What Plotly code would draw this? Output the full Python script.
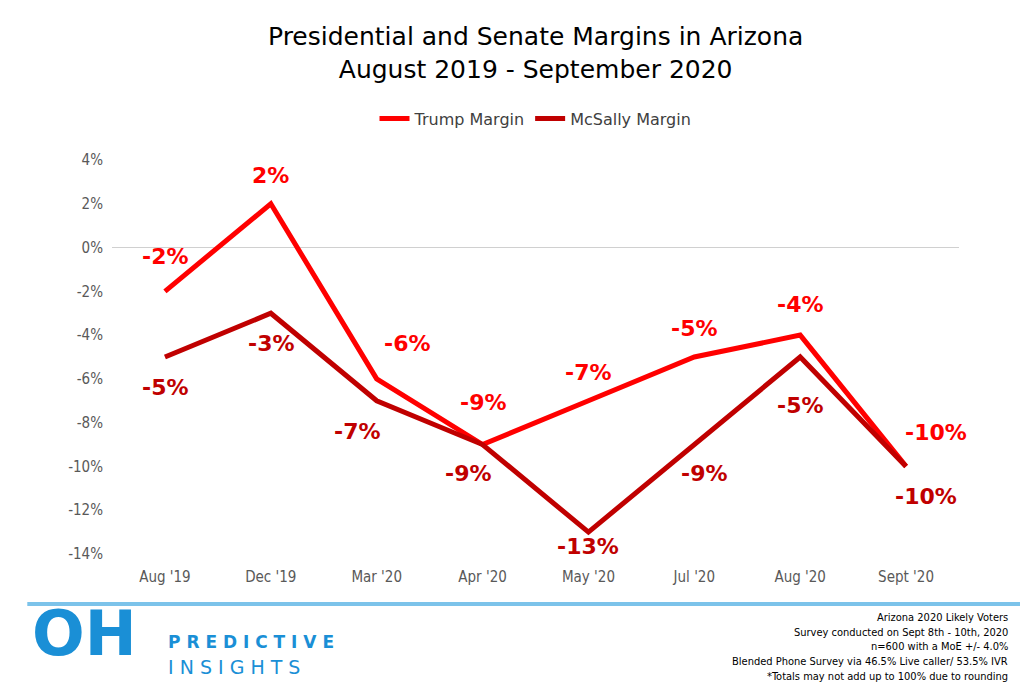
import plotly.graph_objects as go

months = ["Aug '19", "Dec '19", "Mar '20", "Apr '20", "May '20", "Jul '20", "Aug '20", "Sept '20"]
trump = [-2, 2, -6, -9, -7, -5, -4, -10]
mcsally = [-5, -3, -7, -9, -13, -9, -5, -10]
ytick_vals = [4, 2, 0, -2, -4, -6, -8, -10, -12, -14]
# label offsets in px (x, y)
trump_off = [(0, 35), (0, 28), (30, 35), (0, 42), (0, 28), (0, 29), (0, 31), (30, 34)]
mcsally_off = [(0, -30), (0, -30), (-20, -31), (-15, -29), (0, -14), (10, -29), (0, -48), (20, -30)]
footer = ["Arizona 2020 Likely Voters", "Survey conducted on Sept 8th - 10th, 2020",
          "n=600 with a MoE +/- 4.0%", "Blended Phone Survey via 46.5% Live caller/ 53.5% IVR",
          "*Totals may not add up to 100% due to rounding"]

RED = "#FF0000"
DARK = "#C00000"
BLUE = "#1a8fd6"
fig = go.Figure()
fig.add_trace(go.Scatter(x=months, y=trump, name="Trump Margin", mode="lines",
                         line=dict(color=RED, width=5)))
fig.add_trace(go.Scatter(x=months, y=mcsally, name="McSally Margin", mode="lines",
                         line=dict(color=DARK, width=5)))

for vals, offs, col in [(trump, trump_off, RED), (mcsally, mcsally_off, DARK)]:
    for m, v, (dx, dy) in zip(months, vals, offs):
        fig.add_annotation(x=m, y=v, text=f"<b>{v}%</b>", showarrow=False, xshift=dx, yshift=dy,
                           font=dict(size=22, color=col, family="DejaVu Sans"))

fig.add_annotation(xref="paper", yref="paper", x=0.5, y=1.0, yshift=140, yanchor="top",
                   text="Presidential and Senate Margins in Arizona<br>August 2019 - September 2020",
                   showarrow=False, font=dict(size=25, color="black", family="DejaVu Sans"))

for i, t in enumerate(footer):
    fig.add_annotation(xref="paper", yref="paper", xanchor="right", x=1.0, xshift=51,
                       y=0, yshift=-72 - 14.7 * i, text=t, showarrow=False,
                       font=dict(size=11, color="black", family="DejaVu Sans Condensed"))

fig.add_annotation(xref="paper", yref="paper", xanchor="left", x=0, xshift=-82, y=0, yshift=-118,
                   text="<b>OH</b>", showarrow=False,
                   font=dict(size=62, color=BLUE, family="DejaVu Sans"))
fig.add_annotation(xref="paper", yref="paper", xanchor="left", x=0, xshift=54, y=0, yshift=-100,
                   text="<b>P R E D I C T I V E</b>", showarrow=False,
                   font=dict(size=17, color=BLUE, family="DejaVu Sans"))
fig.add_annotation(xref="paper", yref="paper", xanchor="left", x=0, xshift=54, y=0, yshift=-126,
                   text="I N S I G H T S", showarrow=False,
                   font=dict(size=19, color=BLUE, family="DejaVu Sans"))

fig.add_shape(type="line", xref="paper", yref="paper", x0=-0.1, x1=1.08, y0=-0.127, y1=-0.127,
              line=dict(color="#7cc3ea", width=4))

fig.update_layout(
    width=1028, height=692, plot_bgcolor="white", paper_bgcolor="white",
    margin=dict(l=104, r=77, t=152, b=146, autoexpand=False),
    font=dict(family="DejaVu Sans", color="#595959", size=15),
    showlegend=True,
    legend=dict(orientation="h", x=0.5, xanchor="center", y=1.062, yanchor="bottom",
                font=dict(size=16, color="#404040")),
    xaxis=dict(type="category", range=[-0.5, 7.5], showgrid=False, showline=False, ticks="",
               ticklabelstandoff=12, automargin=False,
               tickfont=dict(size=15, family="DejaVu Sans Condensed")),
    yaxis=dict(range=[-14, 4], tickvals=ytick_vals, ticktext=[f"{v}%" for v in ytick_vals],
               showgrid=False, zeroline=True, automargin=False, ticklabelstandoff=8,
               zerolinecolor="#d0d0d0", zerolinewidth=1,
               tickfont=dict(size=15, family="DejaVu Sans Condensed")),
)
fig.write_html("out.html")
